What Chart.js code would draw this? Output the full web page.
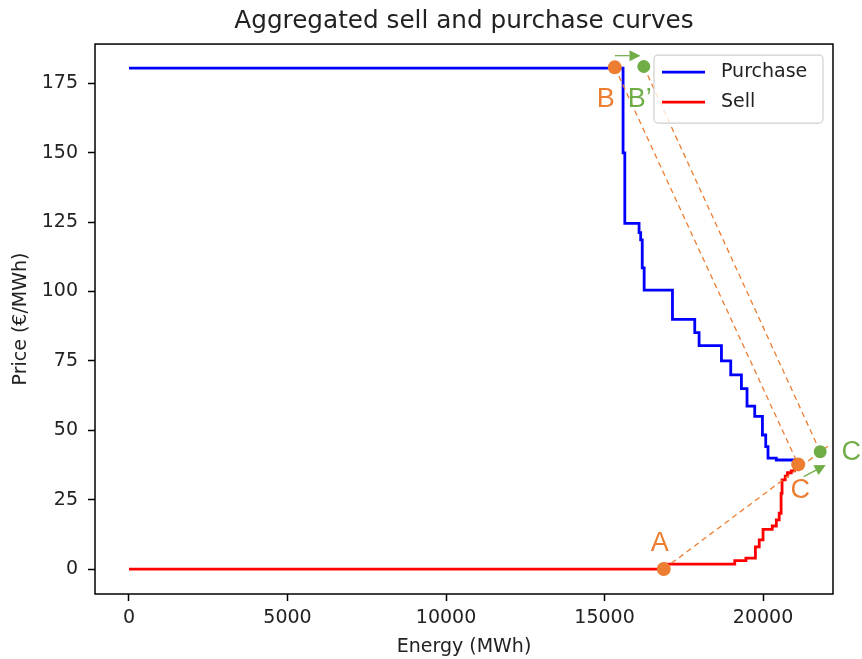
<!DOCTYPE html>
<html>
<head>
<meta charset="utf-8">
<script src="https://cdn.jsdelivr.net/npm/chart.js@4.4.1/dist/chart.umd.min.js"></script>
<style>
  html, body { margin: 0; padding: 0; background: #fff; }
  #wrap { width: 862px; height: 659px; }
</style>
</head>
<body>
<div id="wrap"><canvas id="chart"></canvas></div>
<script>
// axis ticks
const xTicks = [0, 5000, 10000, 15000, 20000];
const yTicks = [0, 25, 50, 75, 100, 125, 150, 175];

// aggregated purchase curve (price level starts at that energy)
const purchaseEnergy = [0, 15585, 15640, 16090, 16140, 16190, 16250, 17143, 17846, 17983, 18688, 18981, 19318, 19495, 19738, 19981, 20085, 20157, 20418, 21040];
const purchasePrice  = [180.5, 150, 124.6, 121.2, 118.6, 108.5, 100.5, 90, 85.2, 80.5, 75, 70, 65, 58.7, 55, 48.3, 44.1, 40, 39.3, 39.3];

// aggregated sell curve
const sellEnergy = [0, 16868, 19108, 19460, 19760, 19880, 20000, 20290, 20420, 20510, 20570, 20600, 20700, 20770, 20890, 20990, 21080];
const sellPrice  = [0, 1.8, 3.0, 3.9, 8.0, 10.5, 14.3, 15.5, 17.7, 20.1, 27.3, 32.1, 33.5, 34.7, 35.4, 36.9, 37.7];

// marked points
const orangeNames  = ['B', 'C', 'A'];
const orangeEnergy = [15324, 21109, 16868];
const orangePrice  = [180.8, 37.7, 0];
const greenNames   = ['B’', 'C'];
const greenEnergy  = [16238, 21803];
const greenPrice   = [181.1, 42.3];

// dashed guides
const guideBCEnergy  = [15324, 21109];
const guideBCPrice   = [180.8, 37.7];
const guideB2CEnergy = [16238, 21803];
const guideB2CPrice  = [181.1, 42.3];
const guideACEnergy  = [16868, 22100];
const guideACPrice   = [0, 44.7];

// green shift arrows
const arrowBEnergy = [15324, 16134];
const arrowBPrice  = [185.0, 185.0];
const arrowCEnergy = [21283, 21976];
const arrowCPrice  = [33.3, 37.5];

const ORANGE = '#ED7D31';
const GREEN = '#70AD47';
const FONT = '"DejaVu Sans", sans-serif';
const TEXT = '#222';

const pts = (xs, ys) => xs.map((v, i) => ({ x: v, y: ys[i] }));

// label offsets in px from their point
const orangeOffsets = [[-9, 32], [2, 26], [-4, -25]];
const greenOffsets = [[-4, 33], [31, 1]];

function arrow(ctx, x0, y0, x1, y1) {
    const ang = Math.atan2(y1 - y0, x1 - x0);
    const hl = 11, hw = 5.5;
    const bx = x1 - hl * Math.cos(ang), by = y1 - hl * Math.sin(ang);
    ctx.beginPath();
    ctx.moveTo(x0, y0);
    ctx.lineTo(bx, by);
    ctx.stroke();
    ctx.beginPath();
    ctx.moveTo(x1, y1);
    ctx.lineTo(bx + hw * Math.sin(ang), by - hw * Math.cos(ang));
    ctx.lineTo(bx - hw * Math.sin(ang), by + hw * Math.cos(ang));
    ctx.closePath();
    ctx.fill();
}

const overlay = {
    id: 'overlay',
    afterDatasetsDraw(chart) {
        const { ctx, chartArea: a, scales: { x, y } } = chart;
        ctx.save();
        // arrows
        ctx.strokeStyle = GREEN;
        ctx.fillStyle = GREEN;
        ctx.lineWidth = 1.2;
        arrow(ctx, x.getPixelForValue(arrowBEnergy[0]), y.getPixelForValue(arrowBPrice[0]),
            x.getPixelForValue(arrowBEnergy[1]), y.getPixelForValue(arrowBPrice[1]));
        arrow(ctx, x.getPixelForValue(arrowCEnergy[0]), y.getPixelForValue(arrowCPrice[0]),
            x.getPixelForValue(arrowCEnergy[1]), y.getPixelForValue(arrowCPrice[1]));

        // point letters
        ctx.font = '27px "Liberation Sans", Arial, sans-serif';
        ctx.textAlign = 'center';
        ctx.textBaseline = 'middle';
        ctx.fillStyle = ORANGE;
        orangeNames.forEach((n, i) => {
            ctx.fillText(n, x.getPixelForValue(orangeEnergy[i]) + orangeOffsets[i][0],
                y.getPixelForValue(orangePrice[i]) + orangeOffsets[i][1]);
        });
        ctx.fillStyle = GREEN;
        greenNames.forEach((n, i) => {
            ctx.fillText(n, x.getPixelForValue(greenEnergy[i]) + greenOffsets[i][0],
                y.getPixelForValue(greenPrice[i]) + greenOffsets[i][1]);
        });

        // legend
        const w = 169, h = 68;
        const lx = a.right - 10 - w, ly = a.top + 11;
        ctx.beginPath();
        ctx.roundRect(lx, ly, w, h, 4);
        ctx.fillStyle = 'rgba(255,255,255,0.8)';
        ctx.fill();
        ctx.strokeStyle = '#d0d0d0';
        ctx.lineWidth = 1.2;
        ctx.stroke();
        const items = [chart.data.datasets[0], chart.data.datasets[1]];
        ctx.font = '19px ' + FONT;
        ctx.textAlign = 'left';
        items.forEach((d, i) => {
            const cy = ly + 17 + i * 30;
            ctx.strokeStyle = d.borderColor;
            ctx.lineWidth = 2.8;
            ctx.beginPath();
            ctx.moveTo(lx + 8, cy);
            ctx.lineTo(lx + 51, cy);
            ctx.stroke();
            ctx.fillStyle = TEXT;
            ctx.fillText(d.label, lx + 67, cy);
        });
        ctx.restore();
    },
    afterDraw(chart) {
        const { ctx, chartArea: a } = chart;
        ctx.save();
        ctx.strokeStyle = '#000';
        ctx.lineWidth = 1.5;
        ctx.strokeRect(a.left, a.top, a.right - a.left, a.bottom - a.top);
        ctx.restore();
    }
};

const lineSet = (label, xs, ys, color, order) => ({
    label, data: pts(xs, ys), borderColor: color, backgroundColor: color,
    showLine: true, stepped: 'before', borderWidth: 2.8, pointRadius: 0, order
});
const guideSet = (xs, ys) => ({
    label: 'guide', data: pts(xs, ys), borderColor: ORANGE, showLine: true,
    borderDash: [5.5, 4], borderWidth: 1.3, pointRadius: 0, order: 1
});
const dotSet = (xs, ys, color, r) => ({
    label: 'dots', data: pts(xs, ys), backgroundColor: color, borderColor: color,
    pointRadius: r, pointBorderWidth: 0, showLine: false, order: 0
});

new Chart(document.getElementById('chart'), {
    type: 'scatter',
    data: {
        datasets: [
            lineSet('Purchase', purchaseEnergy, purchasePrice, '#0000FF', 3),
            lineSet('Sell', sellEnergy, sellPrice, '#FF0000', 2),
            guideSet(guideBCEnergy, guideBCPrice),
            guideSet(guideB2CEnergy, guideB2CPrice),
            guideSet(guideACEnergy, guideACPrice),
            dotSet(orangeEnergy, orangePrice, ORANGE, 7),
            dotSet(greenEnergy, greenPrice, GREEN, 6.5)
        ]
    },
    options: {
        responsive: true,
        maintainAspectRatio: false,
        animation: false,
        layout: { padding: { left: 0, right: 29, top: 0, bottom: 0 } },
        plugins: {
            legend: { display: false },
            tooltip: { enabled: false },
            title: {
                display: true,
                fullSize: false,
                text: 'Aggregated sell and purchase curves',
                color: TEXT,
                font: { family: FONT, size: 24.7, weight: 'normal' },
                padding: { top: 7, bottom: 7.4 }
            }
        },
        scales: {
            x: {
                type: 'linear',
                min: -1072,
                max: 22207,
                afterBuildTicks: (s) => { s.ticks = xTicks.map(v => ({ value: v })); },
                afterFit: (s) => { s.height = 65; },
                grid: { drawOnChartArea: false, drawTicks: true, tickLength: 7, tickColor: '#000', tickWidth: 1.5 },
                border: { display: false },
                ticks: { color: TEXT, font: { family: FONT, size: 19 }, padding: 6, maxRotation: 0, callback: v => String(v) },
                title: { display: true, text: 'Energy (MWh)', color: TEXT, font: { family: FONT, size: 19 }, padding: { top: 0, bottom: 1 } }
            },
            y: {
                type: 'linear',
                min: -9,
                max: 189.2,
                afterBuildTicks: (s) => { s.ticks = yTicks.map(v => ({ value: v })); },
                afterFit: (s) => { s.width = 95; },
                grid: { drawOnChartArea: false, drawTicks: true, tickLength: 7, tickColor: '#000', tickWidth: 1.5 },
                border: { display: false },
                ticks: { color: TEXT, font: { family: FONT, size: 19 }, padding: 10, callback: v => String(v) },
                title: { display: true, text: 'Price (€/MWh)', color: TEXT, font: { family: FONT, size: 19 }, padding: { top: 10, bottom: 0 } }
            }
        }
    },
    plugins: [overlay]
});
</script>
</body>
</html>
